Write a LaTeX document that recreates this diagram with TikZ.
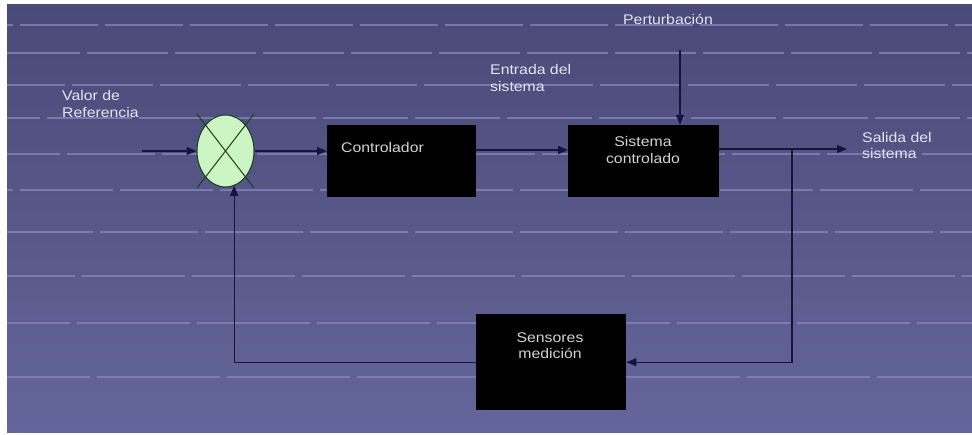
\documentclass[tikz,border=0pt]{standalone}
\usepackage{fontspec}
\setmainfont{Liberation Sans}[FakeStretch=1.13]
\usetikzlibrary{arrows.meta,shapes.geometric}
\definecolor{bgtop}{RGB}{74,74,120}
\definecolor{bgbot}{RGB}{100,101,154}
\definecolor{brick}{RGB}{135,135,188}
\definecolor{wire}{RGB}{20,20,60}
\definecolor{sumfill}{RGB}{204,245,196}
\definecolor{sumline}{RGB}{30,60,30}
\definecolor{lblc}{RGB}{228,228,240}
\definecolor{boxtxt}{RGB}{212,212,212}
\begin{document}
\begin{tikzpicture}[x=1pt,y=-1pt,
  blk/.style={fill=black,inner sep=0pt,anchor=north west},
  lbl/.style={text=lblc,font=\fontsize{14}{17}\selectfont,inner sep=0pt},
  btxt/.style={text=boxtxt,font=\fontsize{14}{17}\selectfont,inner sep=0pt},
  arr/.style={draw=wire,line width=1.3pt,-{Triangle[length=10pt,width=8pt]}}]
\useasboundingbox (0,0) rectangle (972,434);
\fill[white] (0,0) rectangle (972,434);
\shade[top color=bgtop,bottom color=bgbot] (7,4) rectangle (972,432);
\foreach \yy/\p/\g in {25/85/98,53/88/80,85/88/153,118/92/40,154/95/60,190/100/113,232/105/93,276/110/75,323/120/70,377/130/90}{
  \pgfmathsetmacro\on{\p-7}
  \pgfmathsetmacro\ph{mod(10*\p-\g,\p)}
  \draw[brick,opacity=0.75,line width=1.8pt,dash pattern=on \on pt off 7pt,dash phase=\ph pt] (7,\yy) -- (972,\yy);
}
% blocks
\node[ellipse,draw=sumline,fill=sumfill,line width=1pt,minimum width=57pt,minimum height=72pt,inner sep=0pt] (sum) at (225.5,151) {};
\draw[sumline,line width=1pt] (sum.center) ++(-28.5,-37) -- ++(57,74);
\draw[sumline,line width=1pt] (sum.center) ++(28.5,-37) -- ++(-57,74);
\node[blk,minimum width=149pt,minimum height=72pt] (ctrl) at (327,125) {};
\node[blk,minimum width=151pt,minimum height=72pt] (plant) at (568,125) {};
\node[blk,minimum width=150pt,minimum height=96pt] (sens) at (476,314) {};
% texts in blocks
\node[btxt,anchor=base west] (ctrlt) at (341,152) {Controlador};
\node[btxt,anchor=base] (plantt1) at (643,146) {Sistema};
\node[btxt,anchor=base] (plantt2) at (643,163) {controlado};
\node[btxt,anchor=base] (senst1) at (550,342) {Sensores};
\node[btxt,anchor=base] (senst2) at (550,358) {medición};
% labels
\node[lbl,anchor=base west] (ref1) at (62,100) {Valor de};
\node[lbl,anchor=base west] (ref2) at (62,117) {Referencia};
\node[lbl,anchor=base west] (ent1) at (490,74) {Entrada del};
\node[lbl,anchor=base west] (ent2) at (490,91) {sistema};
\node[lbl,anchor=base] (pert) at (668,24) {Perturbación};
\node[lbl,anchor=base west] (sal1) at (862,142) {Salida del};
\node[lbl,anchor=base west] (sal2) at (862,158) {sistema};
% connectors
\coordinate (in) at (142,151);
\coordinate (ly) at (0,150);
\coordinate (out) at (847,149);
\coordinate (br) at (792,149);
\coordinate (pt) at (680,50);
\draw[arr] (in) -- (sum.west);
\draw[arr] (sum.east) -- (ctrl.west |- sum.east);
\draw[arr] (ctrl.east |- ly) -- (plant.west |- ly);
\draw[arr] (plant.east |- out) -- (out);
\draw[arr] (br) |- (sens.east);
\draw[arr] (sens.west) -| (sum.-76);
\draw[arr] (pt) -- (pt |- plant.north);
\end{tikzpicture}
\end{document}
